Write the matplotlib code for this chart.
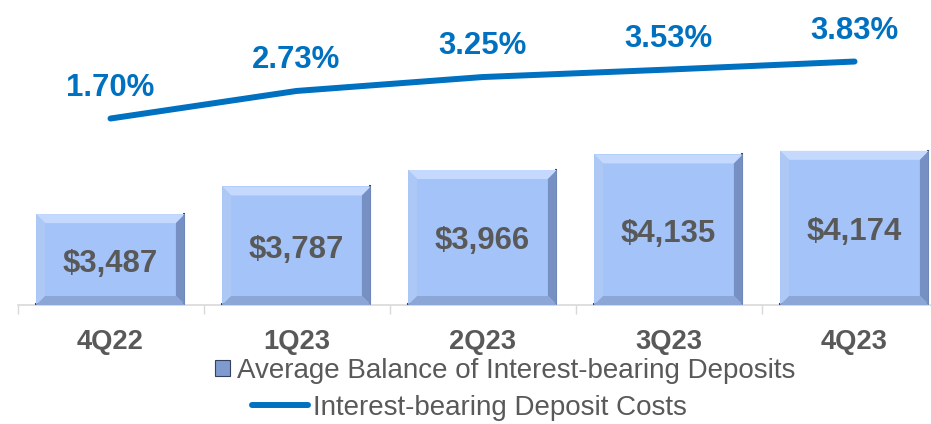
import matplotlib
matplotlib.use("Agg")
import matplotlib.pyplot as plt
from matplotlib.patches import Polygon, Rectangle
from matplotlib.lines import Line2D

plt.rcParams["font.family"] = ["Liberation Sans", "DejaVu Sans"]

# data
quarters = ["4Q22", "1Q23", "2Q23", "3Q23", "4Q23"]
avg_balance = [3487, 3787, 3966, 4135, 4174]
deposit_cost = [1.70, 2.73, 3.25, 3.53, 3.83]

bar_label = "Average Balance of Interest-bearing Deposits"
line_label = "Interest-bearing Deposit Costs"

gray = "#595959"
blue = "#0070C0"
face = "#A3C3F9"

W, H = 931, 424
fig = plt.figure(figsize=(W / 100, H / 100), dpi=100)
ax = fig.add_axes([17.5 / W, 119 / H, 930 / W, 305 / H])

x = list(range(len(quarters)))
bars = ax.bar(x, avg_balance, width=0.8, color=face, edgecolor="none", zorder=2)
ax.set_xlim(-0.5, 4.5)
ax.set_ylim(2500, 5812)

ax.set_xticks(x)
ax.set_xticklabels(quarters, fontsize=19.7, fontweight="bold", color=gray)
ax.set_xticks([i - 0.5 for i in range(len(quarters) + 1)], minor=True)
ax.tick_params(axis="x", which="major", length=0, pad=17.5)
ax.tick_params(axis="x", which="minor", length=6.5, width=1, color="#D9D9D9")
ax.set_yticks([])
for s in ["top", "left", "right"]:
    ax.spines[s].set_visible(False)
ax.spines["bottom"].set_color("#D9D9D9")
ax.spines["bottom"].set_linewidth(1.2)

for xi, v in zip(x, avg_balance):
    ax.annotate(f"${v:,}", (xi, (2500 + v) / 2), xytext=(0, -4), textcoords="offset pixels",
                ha="center", va="center", fontsize=22.4, fontweight="bold",
                color=gray, zorder=4)

# bevel on each bar, built from the bar's own extent (clipped to the axes)
bv = 9
for b in bars:
    bb = b.get_window_extent()
    x0, x1, y1 = bb.x0, bb.x1, bb.y1
    y0 = max(bb.y0, ax.bbox.y0)
    sides = [
        ([(x0, y1), (x1, y1), (x1 - bv, y1 - bv), (x0 + bv, y1 - bv)], "#C4D9FD"),
        ([(x0, y0), (x0, y1), (x0 + bv, y1 - bv), (x0 + bv, y0 + bv)], "#ADC8F5"),
        ([(x1, y0), (x1, y1), (x1 - bv, y1 - bv), (x1 - bv, y0 + bv)], "#7690C3"),
        ([(x0, y0), (x1, y0), (x1 - bv, y0 + bv), (x0 + bv, y0 + bv)], "#8DA6D8"),
    ]
    for pts, c in sides:
        fig.patches.append(Polygon(pts, closed=True, facecolor=c, edgecolor="none",
                                   transform=None, figure=fig, zorder=3))
    fig.lines.append(Line2D([x0, x1 - 1, x1 - 1], [y0 + 1, y0 + 1, y1], color="#3A4866",
                            lw=1.5, transform=None, figure=fig, zorder=3))

ax2 = ax.twinx()
ax2.set_ylim(-5.27, 6.13)
ax2.axis("off")
ax2.plot(x, deposit_cost, color=blue, lw=4.3, solid_capstyle="round")
for xi, v in zip(x, deposit_cost):
    ax2.annotate(f"{v:.2f}%", (xi, v), xytext=(0, 31), textcoords="offset pixels",
                 ha="center", va="center", fontsize=22.4, fontweight="bold", color=blue)

bar_handle = Rectangle((0, 0), 1, 1, facecolor="#7F9ACF", edgecolor="#34415E", lw=0.8)
fig.legend([bar_handle], [bar_label], loc="center", bbox_to_anchor=(505 / W, 1 - 371 / H),
           frameon=False, fontsize=20, labelcolor=gray, handlelength=0.54,
           handleheight=0.54, handletextpad=0.25, borderpad=0, borderaxespad=0)
line_handle = Line2D([0], [0], color=blue, lw=4.3, solid_capstyle="round")
fig.legend([line_handle], [line_label], loc="center", bbox_to_anchor=(469 / W, 1 - 408 / H),
           frameon=False, fontsize=20, labelcolor=gray, handlelength=2.05,
           handletextpad=0.15, borderpad=0, borderaxespad=0)

fig.savefig("out.png", dpi=100)
